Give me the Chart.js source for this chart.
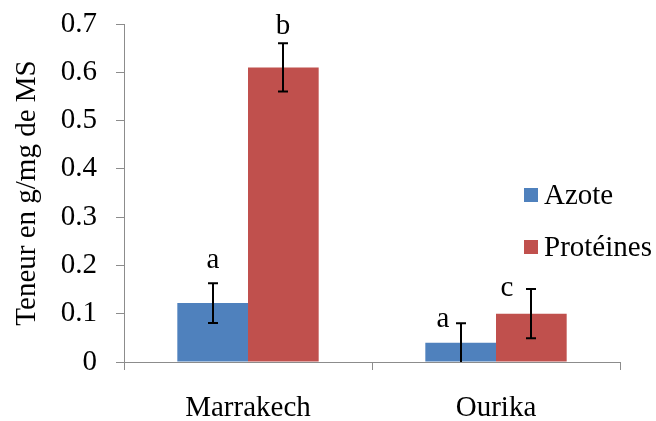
<!DOCTYPE html>
<html>
<head>
<meta charset="utf-8">
<script src="https://cdn.jsdelivr.net/npm/chart.js@4"></script>
<style>
  html, body { margin: 0; padding: 0; background: #fff; }
  #wrap { width: 656px; height: 421px; }
</style>
</head>
<body>
<div id="wrap"><canvas id="chart" width="656" height="421"></canvas></div>
<script>
const categories = ["Marrakech", "Ourika"];
const azote = [0.122, 0.04];
const proteines = [0.61, 0.1];
const azoteErr = [0.041, 0.04];
const proteinesErr = [0.05, 0.051];
const azoteLetters = ["a", "a"];
const proteinesLetters = ["b", "c"];
const yTicks = [0, 0.1, 0.2, 0.3, 0.4, 0.5, 0.6, 0.7];

const FONT = "'Liberation Serif', 'Times New Roman', serif";
const FSIZE = 29;
const GRID = "#8c8c8c";

// letter nudges in px [dx, dy], relative to the top of the error bar
const letterNudge = [
  [[0, -15], [-18, 4]],
  [[0, -9], [-24, 7]],
];

const errorBars = {
  id: "errorBars",
  afterDatasetsDraw(chart) {
    const ctx = chart.ctx;
    const y = chart.scales.y;
    const errs = [azoteErr, proteinesErr];
    const letters = [azoteLetters, proteinesLetters];
    ctx.save();
    ctx.strokeStyle = "#000";
    ctx.lineWidth = 2;
    ctx.fillStyle = "#000";
    ctx.font = FSIZE + "px " + FONT;
    ctx.textAlign = "center";
    ctx.textBaseline = "alphabetic";
    chart.data.datasets.forEach((ds, i) => {
      const meta = chart.getDatasetMeta(i);
      meta.data.forEach((bar, j) => {
        const v = ds.data[j];
        const e = errs[i][j];
        const top = y.getPixelForValue(v + e);
        const bot = y.getPixelForValue(Math.max(0, v - e));
        const x = Math.round(bar.x);
        ctx.beginPath();
        ctx.moveTo(x, top);
        ctx.lineTo(x, bot);
        ctx.moveTo(x - 5, top);
        ctx.lineTo(x + 5, top);
        if (v - e > 0) {
          ctx.moveTo(x - 5, bot);
          ctx.lineTo(x + 5, bot);
        }
        ctx.stroke();
        const n = letterNudge[i][j];
        ctx.fillText(letters[i][j], x + n[0], top + n[1]);
      });
    });
    ctx.restore();
  },
};

const sideLegend = {
  id: "sideLegend",
  afterDraw(chart) {
    const ctx = chart.ctx;
    ctx.save();
    ctx.font = FSIZE + "px " + FONT;
    ctx.textAlign = "left";
    ctx.textBaseline = "middle";
    const rows = [195, 247];
    chart.data.datasets.forEach((ds, i) => {
      ctx.fillStyle = ds.backgroundColor;
      ctx.fillRect(524, rows[i] - 7, 14, 14);
      ctx.fillStyle = "#000";
      ctx.fillText(ds.label, 544, rows[i] + 1);
    });
    ctx.restore();
  },
};

new Chart(document.getElementById("chart"), {
  type: "bar",
  data: {
    labels: categories,
    datasets: [
      { label: "Azote", data: azote, backgroundColor: "#4F81BD" },
      { label: "Protéines", data: proteines, backgroundColor: "#C0504D" },
    ],
  },
  options: {
    responsive: false,
    animation: false,
    devicePixelRatio: 1,
    layout: { padding: { left: 0, right: 36, top: 24, bottom: 0 } },
    plugins: {
      legend: { display: false },
      tooltip: { enabled: false },
    },
    datasets: {
      bar: { categoryPercentage: 0.57, barPercentage: 1.0 },
    },
    scales: {
      x: {
        afterFit: (s) => {
          s.height = 59;
          s.paddingLeft = 0;
          s.paddingRight = 0;
        },
        grid: {
          offset: true,
          drawOnChartArea: false,
          drawTicks: true,
          tickLength: 8,
          color: GRID,
        },
        border: { display: true, color: GRID, width: 1 },
        ticks: {
          color: "#000",
          font: { family: FONT, size: FSIZE },
          padding: 21,
        },
      },
      y: {
        min: 0,
        max: 0.7,
        afterFit: (s) => {
          s.width = 124;
          s.paddingTop = 0;
          s.paddingBottom = 0;
        },
        afterBuildTicks: (s) => { s.ticks = yTicks.map((v) => ({ value: v })); },
        grid: {
          drawOnChartArea: false,
          drawTicks: true,
          tickLength: 8,
          color: GRID,
        },
        border: { display: true, color: GRID, width: 1 },
        ticks: {
          color: "#000",
          font: { family: FONT, size: FSIZE },
          padding: 19,
          callback: (v) => String(v),
        },
        title: {
          display: true,
          text: "Teneur en g/mg de MS",
          color: "#000",
          font: { family: FONT, size: 29 },
          padding: { top: 10, bottom: 0 },
        },
      },
    },
  },
  plugins: [errorBars, sideLegend],
});
</script>
</body>
</html>
